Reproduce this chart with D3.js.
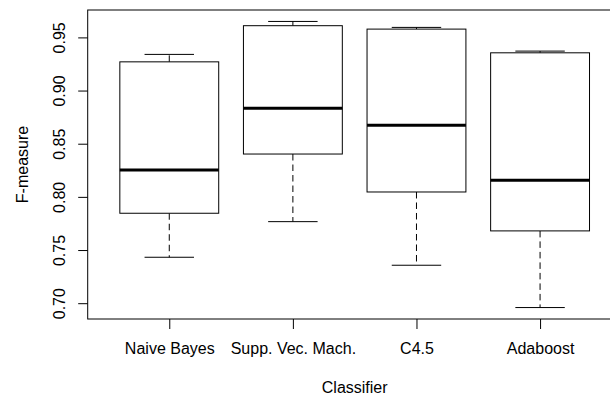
<!DOCTYPE html>
<html>
<head>
<meta charset="utf-8">
<script src="https://cdn.jsdelivr.net/npm/d3@7"></script>
<style>
  body { margin: 0; background: #fff; }
  svg { display: block; }
  text { font-family: "Liberation Sans", Arial, Helvetica, sans-serif; font-size: 16px; fill: #000; }
</style>
</head>
<body>
<svg id="chart"></svg>
<script>
const classifiers = ['Naive Bayes', 'Supp. Vec. Mach.', 'C4.5', 'Adaboost'];
const whiskerLow  = [0.7432, 0.7767, 0.7357, 0.6959];
const lowerQuart  = [0.7846, 0.8403, 0.8046, 0.7680];
const medians     = [0.8253, 0.8833, 0.8673, 0.8156];
const upperQuart  = [0.9270, 0.9610, 0.9578, 0.9355];
const whiskerHigh = [0.9340, 0.9650, 0.9594, 0.9371];
const yTicks = [0.70, 0.75, 0.80, 0.85, 0.90, 0.95];

const width = 610, height = 395;
const margin = {top: 10, left: 87.7, bottom: 76};
const unit = 123.6;              // px per group on the x axis
const n = classifiers.length;

const svg = d3.select('#chart')
    .attr('width', width)
    .attr('height', height);

// R-style 4% extension of the ranges
const lo = d3.min(whiskerLow), hi = d3.max(whiskerHigh);
const pad = (hi - lo) * 0.04;
const xScale = d3.scaleLinear()
    .domain([0.34, n + 0.66])
    .range([margin.left, margin.left + unit * (n + 0.32)]);
const yScale = d3.scaleLinear()
    .domain([lo - pad, hi + pad])
    .range([height - margin.bottom, margin.top]);

const boxes = classifiers.map((c, i) => ({
    name: c, pos: i + 1,
    wlo: whiskerLow[i], q1: lowerQuart[i], med: medians[i], q3: upperQuart[i], whi: whiskerHigh[i]
}));

const g = svg.append('g');

// whiskers (dashed), drawn from the box outwards
g.selectAll('.whisker-low')
    .data(boxes)
    .join('line')
    .attr('x1', d => xScale(d.pos)).attr('x2', d => xScale(d.pos))
    .attr('y1', d => yScale(d.q1)).attr('y2', d => yScale(d.wlo))
    .attr('stroke', '#000').attr('stroke-dasharray', '6.5,4');
g.selectAll('.whisker-high')
    .data(boxes)
    .join('line')
    .attr('x1', d => xScale(d.pos)).attr('x2', d => xScale(d.pos))
    .attr('y1', d => yScale(d.q3)).attr('y2', d => yScale(d.whi))
    .attr('stroke', '#000').attr('stroke-dasharray', '6.5,4');

// caps
['wlo', 'whi'].forEach(k => {
    g.selectAll('.cap-' + k)
        .data(boxes)
        .join('line')
        .attr('x1', d => xScale(d.pos - 0.2)).attr('x2', d => xScale(d.pos + 0.2))
        .attr('y1', d => yScale(d[k])).attr('y2', d => yScale(d[k]))
        .attr('stroke', '#000');
});

// boxes
g.selectAll('.box')
    .data(boxes)
    .join('rect')
    .attr('x', d => xScale(d.pos - 0.4))
    .attr('width', d => xScale(d.pos + 0.4) - xScale(d.pos - 0.4))
    .attr('y', d => yScale(d.q3))
    .attr('height', d => yScale(d.q1) - yScale(d.q3))
    .attr('fill', '#fff')
    .attr('stroke', '#000');

// medians
g.selectAll('.median')
    .data(boxes)
    .join('line')
    .attr('x1', d => xScale(d.pos - 0.4)).attr('x2', d => xScale(d.pos + 0.4))
    .attr('y1', d => yScale(d.med)).attr('y2', d => yScale(d.med))
    .attr('stroke', '#000').attr('stroke-width', 3);

// frame
const [px0, px1] = xScale.range();
const [py1, py0] = yScale.range();
svg.append('rect')
    .attr('x', px0).attr('y', py0)
    .attr('width', px1 - px0).attr('height', py1 - py0)
    .attr('fill', 'none').attr('stroke', '#000');

// y axis
const yAxis = d3.axisLeft(yScale)
    .tickValues(yTicks)
    .tickFormat(d3.format('.2f'))
    .tickSize(9.5)
    .tickPadding(0);
const yAxisG = svg.append('g')
    .attr('transform', `translate(${px0},0)`)
    .call(yAxis)
    .call(a => a.select('.domain').remove());
yAxisG.selectAll('.tick line').attr('stroke', '#000');
yAxisG.selectAll('.tick text')
    .attr('x', null).attr('dy', null)
    .attr('transform', 'translate(-22.7,0) rotate(-90)')
    .attr('text-anchor', 'middle')
    .style('font-size', '16px')
    .style('font-family', '"Liberation Sans", Arial, sans-serif')
    .attr('fill', '#000');

// x axis
const xAxis = d3.axisBottom(xScale)
    .tickValues(boxes.map(d => d.pos))
    .tickFormat(v => classifiers[v - 1])
    .tickSize(10)
    .tickPadding(0);
const xAxisG = svg.append('g')
    .attr('transform', `translate(0,${py1})`)
    .call(xAxis)
    .call(a => a.select('.domain').remove());
xAxisG.selectAll('.tick line').attr('stroke', '#000');
xAxisG.selectAll('.tick text')
    .attr('y', 35).attr('dy', null)
    .style('font-size', '16px')
    .style('font-family', '"Liberation Sans", Arial, sans-serif')
    .attr('fill', '#000');

// axis titles
svg.append('text')
    .attr('x', (px0 + px1) / 2)
    .attr('y', 393)
    .attr('text-anchor', 'middle')
    .text('Classifier');
svg.append('text')
    .attr('transform', `translate(28,${(py0 + py1) / 2}) rotate(-90)`)
    .attr('text-anchor', 'middle')
    .text('F-measure');
</script>
</body>
</html>
